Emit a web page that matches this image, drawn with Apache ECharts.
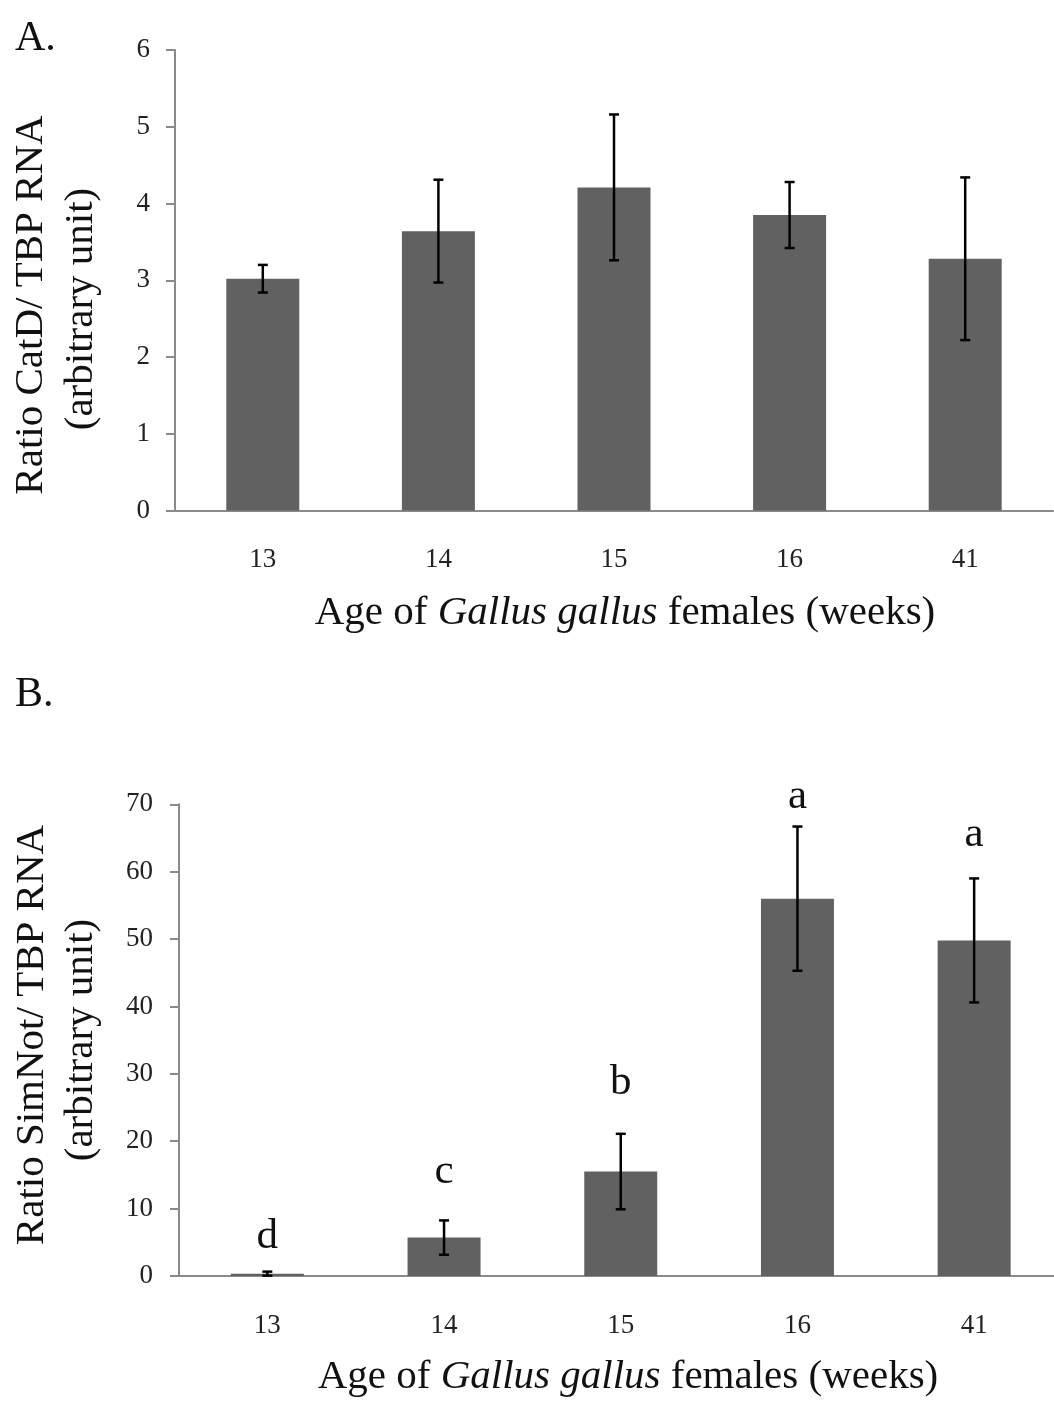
<!DOCTYPE html>
<html>
<head>
<meta charset="utf-8">
<script src="https://cdn.jsdelivr.net/npm/echarts@6/dist/echarts.min.js"></script>
<style>
html,body{margin:0;padding:0;background:#fff;}
#chart{width:1054px;height:1401px;}
</style>
</head>
<body>
<div id="chart"></div>
<script>
// ---- data ----
const categories = ['13', '14', '15', '16', '41'];
const catdMean = [3.02, 3.64, 4.21, 3.85, 3.28];
const catdErr = [0.18, 0.67, 0.95, 0.43, 1.06];
const simnotMean = [0.35, 5.7, 15.5, 56.0, 49.8];
const simnotErr = [0.3, 2.55, 5.6, 10.7, 9.2];
const simnotLetters = ['d', 'c', 'b', 'a', 'a'];
const letterBaseline = [3.7, 13.3, 26.6, 69.0, 63.4];
const catdTicks = { min: 0, max: 6, interval: 1 };
const simnotTicks = { min: 0, max: 70, interval: 10 };

// ---- styling ----
const FONT = "'Liberation Serif', 'Times New Roman', serif";
const AXIS_COLOR = '#8a8a8a';
const BAR_COLOR = '#616161';

function errData(mean, err) {
  return mean.map((m, i) => [i, m - err[i], m + err[i]]);
}

function renderErr(params, api) {
  const i = api.value(0);
  const lo = api.coord([i, api.value(1)]);
  const hi = api.coord([i, api.value(2)]);
  const hw = 5;
  const st = { stroke: '#000', lineWidth: 2.5 };
  return {
    type: 'group',
    children: [
      { type: 'line', shape: { x1: hi[0], y1: hi[1], x2: lo[0], y2: lo[1] }, style: st },
      { type: 'line', shape: { x1: hi[0] - hw, y1: hi[1], x2: hi[0] + hw, y2: hi[1] }, style: st },
      { type: 'line', shape: { x1: lo[0] - hw, y1: lo[1], x2: lo[0] + hw, y2: lo[1] }, style: st }
    ]
  };
}

function renderLetter(params, api) {
  const i = api.value(0);
  const p = api.coord([i, api.value(1)]);
  const fs = 43;
  return {
    type: 'text',
    x: p[0],
    y: p[1] - 0.3375 * fs,
    style: {
      text: simnotLetters[params.dataIndex],
      fontSize: fs,
      fontFamily: FONT,
      fill: '#111',
      align: 'center',
      verticalAlign: 'middle'
    }
  };
}

function xAxisCfg(gridIndex) {
  return {
    type: 'category',
    gridIndex: gridIndex,
    data: categories,
    axisLine: { lineStyle: { color: AXIS_COLOR, width: 2 } },
    axisTick: { length: 10, lineStyle: { color: AXIS_COLOR, width: 2 } },
    axisLabel: { margin: 36, fontSize: 27, color: '#222', fontFamily: FONT }
  };
}

function yAxisCfg(gridIndex, ticks, margin) {
  return {
    type: 'value',
    gridIndex: gridIndex,
    min: ticks.min,
    max: ticks.max,
    interval: ticks.interval,
    splitLine: { show: false },
    axisLine: { show: true, lineStyle: { color: AXIS_COLOR, width: 2 } },
    axisTick: { show: true, length: 9, lineStyle: { color: AXIS_COLOR, width: 2 } },
    axisLabel: { margin: margin, fontSize: 27, color: '#222', fontFamily: FONT }
  };
}

const chart = echarts.init(document.getElementById('chart'), null, { renderer: 'canvas' });

const titleRich = { i: { fontStyle: 'italic', fontSize: 41, fontFamily: FONT, fill: '#111' } };

chart.setOption({
  backgroundColor: '#fff',
  animation: false,
  grid: [
    { left: 175, top: 50, width: 878, height: 460.5, outerBoundsMode: 'none', containLabel: false },
    { left: 179, top: 804.3, width: 883.5, height: 471.7, outerBoundsMode: 'none', containLabel: false }
  ],
  xAxis: [xAxisCfg(0), xAxisCfg(1)],
  yAxis: [yAxisCfg(0, catdTicks, 25), yAxisCfg(1, simnotTicks, 26)],
  series: [
    {
      type: 'bar', xAxisIndex: 0, yAxisIndex: 0, data: catdMean, barWidth: 73,
      itemStyle: { color: BAR_COLOR }
    },
    {
      type: 'custom', xAxisIndex: 0, yAxisIndex: 0, data: errData(catdMean, catdErr),
      encode: { x: 0, y: [1, 2] }, renderItem: renderErr, z: 5
    },
    {
      type: 'bar', xAxisIndex: 1, yAxisIndex: 1, data: simnotMean, barWidth: 73,
      itemStyle: { color: BAR_COLOR }
    },
    {
      type: 'custom', xAxisIndex: 1, yAxisIndex: 1, data: errData(simnotMean, simnotErr),
      encode: { x: 0, y: [1, 2] }, renderItem: renderErr, z: 5
    },
    {
      type: 'custom', xAxisIndex: 1, yAxisIndex: 1,
      data: letterBaseline.map((v, i) => [i, v]),
      encode: { x: 0, y: 1 }, renderItem: renderLetter, clip: false, z: 6
    }
  ],
  graphic: [
    { type: 'text', x: 15, y: 39, style: { text: 'A.', fontSize: 42, fontFamily: FONT, fill: '#111', align: 'left', verticalAlign: 'middle' } },
    { type: 'text', x: 15, y: 695, style: { text: 'B.', fontSize: 42, fontFamily: FONT, fill: '#111', align: 'left', verticalAlign: 'middle' } },
    { type: 'text', x: 31, y: 305, rotation: Math.PI / 2, style: { text: 'Ratio CatD/ TBP RNA', fontSize: 41, fontFamily: FONT, fill: '#111', align: 'center', verticalAlign: 'middle' } },
    { type: 'text', x: 81, y: 309, rotation: Math.PI / 2, style: { text: '(arbitrary unit)', fontSize: 41, fontFamily: FONT, fill: '#111', align: 'center', verticalAlign: 'middle' } },
    { type: 'text', x: 32, y: 1035, rotation: Math.PI / 2, style: { text: 'Ratio SimNot/ TBP RNA', fontSize: 41, fontFamily: FONT, fill: '#111', align: 'center', verticalAlign: 'middle' } },
    { type: 'text', x: 81, y: 1040, rotation: Math.PI / 2, style: { text: '(arbitrary unit)', fontSize: 41, fontFamily: FONT, fill: '#111', align: 'center', verticalAlign: 'middle' } },
    { type: 'text', x: 625, y: 613, style: { text: 'Age of {i|Gallus gallus} females (weeks)', rich: titleRich, fontSize: 41, fontFamily: FONT, fill: '#111', align: 'center', verticalAlign: 'middle' } },
    { type: 'text', x: 628, y: 1377, style: { text: 'Age of {i|Gallus gallus} females (weeks)', rich: titleRich, fontSize: 41, fontFamily: FONT, fill: '#111', align: 'center', verticalAlign: 'middle' } }
  ]
});
</script>
</body>
</html>
